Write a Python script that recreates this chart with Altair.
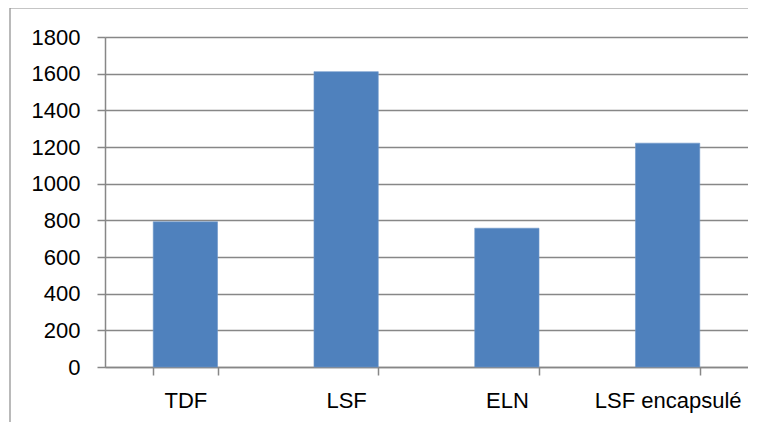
import altair as alt
import pandas as pd

categories = ["TDF", "LSF", "ELN", "LSF encapsulé"]
values = [792, 1611, 757, 1221]

df = pd.DataFrame({"cat": categories, "val": values})

FONT = "Liberation Sans"
GRAY = "#878787"

bars = alt.Chart(df).mark_bar(color="#4F81BD", stroke="#6f97c9", strokeWidth=0.6).encode(
    x=alt.X("cat:N", sort=categories, title=None,
            scale=alt.Scale(paddingInner=0.6, paddingOuter=0.3),
            axis=alt.Axis(labelAngle=0, labelFontSize=22, labelFont=FONT, labelColor="black",
                          domainColor=GRAY, domainWidth=1.5, tickColor=GRAY, tickWidth=1.5,
                          tickSize=8, tickBand="extent", labelPadding=15)),
    y=alt.Y("val:Q", title=None,
            scale=alt.Scale(domain=[0, 1800]),
            axis=alt.Axis(values=list(range(0, 1801, 200)), format="d", labelFontSize=22,
                          labelFont=FONT, labelColor="black", domainColor=GRAY, domainWidth=1.5,
                          tickColor=GRAY, tickWidth=1.5, tickSize=8, labelPadding=17,
                          gridColor=GRAY, gridWidth=1.5)),
)

border = alt.Chart(df).mark_rect(fill=None, stroke="#8c8c8c", strokeWidth=1.2, clip=False).encode(
    x=alt.value(-95), x2=alt.value(680), y=alt.value(-29), y2=alt.value(500)
).transform_filter(alt.datum.cat == "TDF")

chart = alt.layer(bars, border).properties(
    width=643, height=330,
    autosize=alt.AutoSizeParams(type="none"),
    padding={"left": 97, "top": 29, "right": 0, "bottom": 55},
).configure_view(stroke=None).configure(background="white")

chart.save("out.html", embed_options={"renderer": "svg", "actions": False})
